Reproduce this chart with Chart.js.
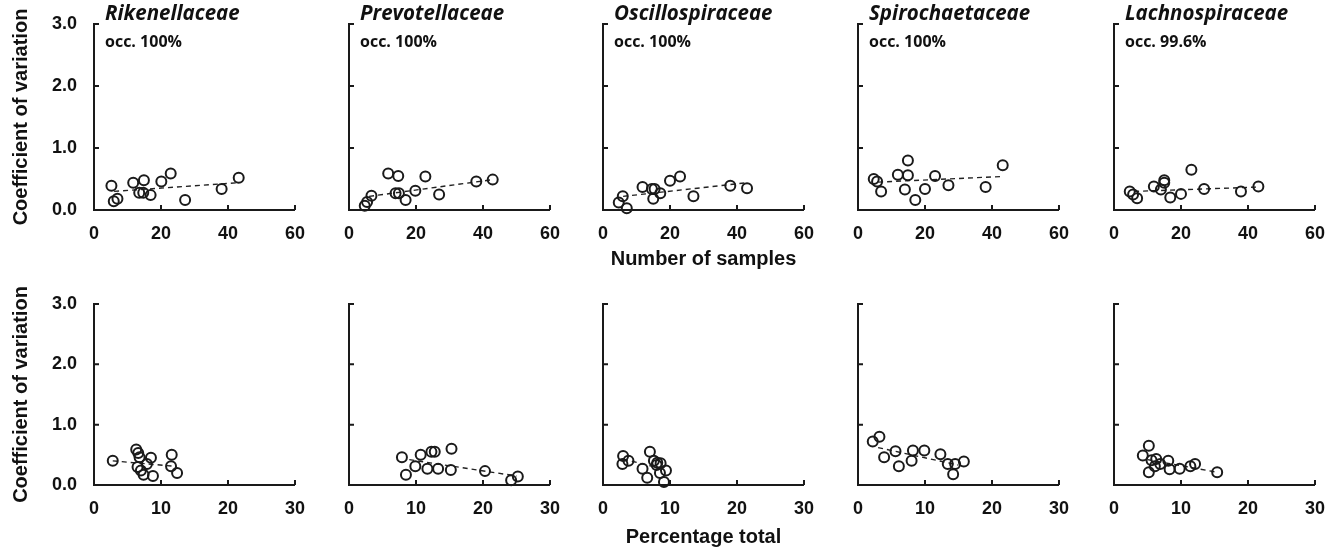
<!DOCTYPE html>
<html>
<head>
<meta charset="utf-8">
<script src="https://cdn.jsdelivr.net/npm/chart.js@4.4.1/dist/chart.umd.min.js"></script>
<style>
  html, body { margin: 0; padding: 0; background: #fff; }
  #page { position: relative; width: 1342px; height: 554px; overflow: hidden; }
  #page canvas { position: absolute; }
</style>
</head>
<body>
<div id="page"></div>
<script>
// Panel labels
const families = ['Rikenellaceae', 'Prevotellaceae', 'Oscillospiraceae', 'Spirochaetaceae', 'Lachnospiraceae'];
const occupancy = ['occ. 100%', 'occ. 100%', 'occ. 100%', 'occ. 100%', 'occ. 99.6%'];

// Tick values
const yTicks = [0, 1, 2, 3];
const samplesTicks = [0, 20, 40, 60];
const percentTicks = [0, 10, 20, 30];

// Top row: number of samples vs coefficient of variation (one list per family)
const samplesX = [
    [5.2, 5.9, 7.0, 11.7, 14.9, 13.5, 14.7, 16.9, 20.1, 22.9, 27.2, 38.1, 43.2],
    [4.7, 5.4, 6.7, 11.7, 14.7, 13.9, 14.9, 16.9, 19.8, 22.8, 26.9, 38.0, 42.9],
    [4.7, 5.9, 7.1, 11.8, 14.6, 15.4, 15.0, 17.1, 20.0, 23.0, 27.0, 38.0, 43.0],
    [4.7, 5.7, 6.9, 11.9, 14.9, 14.9, 14.0, 17.1, 20.0, 23.0, 27.0, 38.1, 43.2],
    [4.7, 5.7, 6.9, 11.9, 14.0, 15.0, 15.0, 16.8, 20.0, 23.1, 26.9, 37.9, 43.1]
];
const samplesCV = [
    [0.39, 0.14, 0.18, 0.44, 0.48, 0.28, 0.28, 0.24, 0.46, 0.59, 0.16, 0.34, 0.52],
    [0.07, 0.13, 0.23, 0.59, 0.55, 0.27, 0.27, 0.16, 0.31, 0.54, 0.25, 0.46, 0.49],
    [0.12, 0.22, 0.03, 0.37, 0.34, 0.34, 0.18, 0.27, 0.47, 0.54, 0.22, 0.39, 0.35],
    [0.50, 0.46, 0.30, 0.57, 0.80, 0.56, 0.33, 0.16, 0.34, 0.55, 0.40, 0.37, 0.72],
    [0.30, 0.25, 0.19, 0.38, 0.33, 0.48, 0.44, 0.20, 0.26, 0.65, 0.34, 0.30, 0.38]
];
const samplesTrendX = [[6, 43], [6, 43], [6, 43], [6, 43], [6, 43]];
const samplesTrendCV = [[0.30, 0.44], [0.22, 0.49], [0.22, 0.44], [0.45, 0.54], [0.30, 0.37]];

// Bottom row: percentage total vs coefficient of variation
const percentX = [
    [2.8, 6.3, 6.6, 6.8, 6.5, 7.0, 7.4, 7.9, 8.5, 8.8, 11.6, 11.5, 12.4],
    [7.9, 8.5, 9.9, 10.7, 11.7, 12.3, 12.8, 13.3, 15.2, 15.3, 20.3, 24.2, 25.2],
    [3.0, 2.9, 3.8, 5.9, 6.6, 7.0, 7.6, 8.1, 8.6, 8.5, 9.4, 9.1, 8.0],
    [2.2, 3.2, 3.9, 5.6, 6.1, 8.0, 8.2, 9.9, 12.3, 13.4, 14.2, 14.5, 15.8],
    [4.3, 5.2, 5.2, 5.6, 6.3, 6.1, 6.9, 8.1, 8.3, 9.8, 11.4, 12.1, 15.4]
];
const percentCV = [
    [0.40, 0.59, 0.53, 0.46, 0.30, 0.24, 0.17, 0.35, 0.45, 0.15, 0.50, 0.31, 0.20],
    [0.46, 0.17, 0.31, 0.50, 0.27, 0.55, 0.55, 0.27, 0.25, 0.60, 0.23, 0.08, 0.14],
    [0.48, 0.35, 0.40, 0.27, 0.12, 0.55, 0.40, 0.37, 0.36, 0.20, 0.24, 0.05, 0.33],
    [0.72, 0.80, 0.46, 0.56, 0.31, 0.40, 0.57, 0.57, 0.51, 0.35, 0.18, 0.35, 0.39],
    [0.49, 0.65, 0.21, 0.41, 0.43, 0.31, 0.35, 0.40, 0.26, 0.27, 0.31, 0.35, 0.21]
];
const percentTrendX = [[2.8, 12], [9, 25], [3, 9.5], [3, 15], [5, 15]];
const percentTrendCV = [[0.40, 0.31], [0.42, 0.15], [0.43, 0.25], [0.62, 0.33], [0.42, 0.22]];

const AXIS = '#1a1a1a';
const TEXT = '#111';
Chart.defaults.font.family = '"Liberation Sans", Arial, sans-serif';

const plotLefts = [94, 349, 603, 858, 1114];
const plotW = 202;
const padTop = 30; // leaves room above the plot for the 3.0 label and family name
const rows = [
    { plotTop: 24, plotBottom: 210, canvasBottom: 272, xMax: 60, xTicks: samplesTicks, xs: samplesX, ys: samplesCV,
      tx: samplesTrendX, ty: samplesTrendCV, xTitle: 'Number of samples', labels: true },
    { plotTop: 304, plotBottom: 485, canvasBottom: 550, xMax: 30, xTicks: percentTicks, xs: percentX, ys: percentCV,
      tx: percentTrendX, ty: percentTrendCV, xTitle: 'Percentage total', labels: false }
];

// short tick marks drawn inward from the axis lines
const innerTicks = {
    id: 'innerTicks',
    afterDraw(chart) {
        const { ctx, chartArea: a, scales: { x, y } } = chart;
        ctx.save();
        ctx.strokeStyle = AXIS;
        ctx.lineWidth = 2;
        ctx.beginPath();
        x.ticks.forEach(t => {
            if (t.value === x.min) return;
            const px = x.getPixelForValue(t.value);
            ctx.moveTo(px, a.bottom);
            ctx.lineTo(px, a.bottom - 5);
        });
        y.ticks.forEach(t => {
            if (t.value === y.min) return;
            const py = y.getPixelForValue(t.value);
            ctx.moveTo(a.left, py);
            ctx.lineTo(a.left + 5, py);
        });
        ctx.stroke();
        ctx.restore();
    }
};

// family name + occupancy inside the top of each upper panel
const panelText = {
    id: 'panelText',
    afterDraw(chart, args, opts) {
        if (!opts.title) return;
        const { ctx, chartArea: a } = chart;
        ctx.save();
        ctx.fillStyle = TEXT;
        ctx.textBaseline = 'alphabetic';
        ctx.textAlign = 'left';
        ctx.font = 'italic bold 20.5px "Open Sans"';
        ctx.fillText(opts.title, a.left + 11, a.top - 4);
        ctx.font = 'bold 16px "Open Sans"';
        ctx.fillText(opts.occ, a.left + 11, a.top + 23);
        ctx.restore();
    }
};

const page = document.getElementById('page');

rows.forEach(row => {
    families.forEach((fam, col) => {
        const canvas = document.createElement('canvas');
        const canvasTop = row.plotTop - padTop;
        canvas.width = 94 + plotW + 22;
        canvas.height = row.canvasBottom - canvasTop;
        canvas.style.left = (plotLefts[col] - 94) + 'px';
        canvas.style.top = canvasTop + 'px';
        page.appendChild(canvas);

        const points = row.xs[col].map((v, i) => ({ x: v, y: row.ys[col][i] }));
        const trend = row.tx[col].map((v, i) => ({ x: v, y: row.ty[col][i] }));
        const xH = row.canvasBottom - row.plotBottom;

        new Chart(canvas, {
            type: 'scatter',
            data: {
                datasets: [
                    {
                        data: points,
                        pointStyle: 'circle',
                        pointRadius: 5,
                        borderWidth: 2,
                        borderColor: AXIS,
                        backgroundColor: 'rgba(0,0,0,0)',
                        clip: false
                    },
                    {
                        type: 'line',
                        data: trend,
                        borderColor: '#222',
                        borderWidth: 1.4,
                        borderDash: [5, 4],
                        pointRadius: 0,
                        fill: false,
                        clip: false
                    }
                ]
            },
            options: {
                responsive: false,
                animation: false,
                devicePixelRatio: 1,
                layout: { padding: { left: 0, top: padTop, right: 22, bottom: 0 } },
                plugins: {
                    legend: { display: false },
                    tooltip: { enabled: false },
                    panelText: row.labels ? { title: fam, occ: occupancy[col] } : {}
                },
                scales: {
                    x: {
                        type: 'linear',
                        min: 0,
                        max: row.xMax,
                        afterBuildTicks: s => { s.ticks = row.xTicks.map(v => ({ value: v })); },
                        afterFit: s => { s.height = xH; },
                        grid: { display: false, drawTicks: false },
                        border: { display: true, color: AXIS, width: 2 },
                        ticks: { padding: 13, color: TEXT, font: { size: 18, weight: 'bold' } },
                        title: {
                            display: col === 2,
                            text: row.xTitle,
                            color: TEXT,
                            font: { size: 20, weight: 'bold' },
                            padding: { top: 0, bottom: 1 }
                        }
                    },
                    y: {
                        type: 'linear',
                        min: 0,
                        max: 3,
                        afterBuildTicks: s => { s.ticks = yTicks.map(v => ({ value: v })); },
                        afterFit: s => { s.width = 94; },
                        grid: { display: false, drawTicks: false },
                        border: { display: true, color: AXIS, width: 2 },
                        ticks: {
                            display: col === 0,
                            padding: 17,
                            color: TEXT,
                            font: { size: 18, weight: 'bold' },
                            callback: v => v.toFixed(1)
                        },
                        title: {
                            display: col === 0,
                            text: 'Coefficient of variation',
                            color: TEXT,
                            font: { size: 20, weight: 'bold' },
                            padding: { top: 9, bottom: 0 }
                        }
                    }
                }
            },
            plugins: [innerTicks, panelText]
        });
    });
});
</script>
</body>
</html>
